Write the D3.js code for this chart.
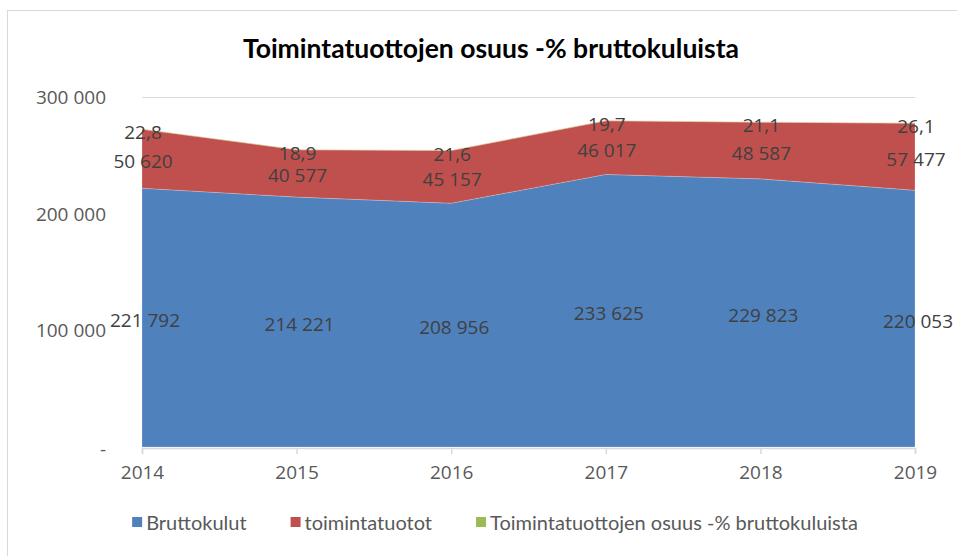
<!DOCTYPE html>
<html>
<head>
<meta charset="utf-8">
<script src="https://cdn.jsdelivr.net/npm/d3@7"></script>
<style>
  body { margin: 0; background: #fff; }
  svg { display: block; }
  .tick-label { font-family: "Open Sans", sans-serif; font-size: 19px; fill: #595959; }
  .data-label { font-family: "Open Sans", sans-serif; font-size: 19px; fill: #404040; }
  .legend text { font-family: Lato, sans-serif; font-size: 20px; fill: #595959; }
</style>
</head>
<body>
<div id="chart"></div>
<script>
var years = [2014, 2015, 2016, 2017, 2018, 2019];
var bruttokulut = [221792, 214221, 208956, 233625, 229823, 220053];
var toimintatuotot = [50620, 40577, 45157, 46017, 48587, 57477];
var osuus = [22.8, 18.9, 21.6, 19.7, 21.1, 26.1];
var yTicks = [0, 100000, 200000, 300000];
var seriesNames = ["Bruttokulut", "toimintatuotot", "Toimintatuottojen osuus -% bruttokuluista"];
var colors = ["#4F81BD", "#C0504D", "#9BBB59"];

var W = 957, H = 556;
var margin = {top: 97, right: 42, bottom: 109, left: 142},
    width = W - margin.left - margin.right,
    height = H - margin.top - margin.bottom;

var fi = d3.formatLocale({decimal: ",", thousands: "\u00a0", grouping: [3]});
var fmtInt = fi.format(",d"), fmtPct = fi.format(",.1f");

var svg = d3.select("#chart").append("svg")
    .attr("width", W)
    .attr("height", H);

// chart border
svg.append("rect")
    .attr("x", 7.5).attr("y", 10.5)
    .attr("width", W + 10).attr("height", H + 10)
    .attr("fill", "none").attr("stroke", "#d9d9d9");

svg.append("text")
    .attr("x", 491).attr("y", 48)
    .attr("text-anchor", "middle").attr("dominant-baseline", "central")
    .style("font-family", "Lato, sans-serif").style("font-weight", "bold")
    .style("font-size", "26.5px").style("fill", "#000")
    .text("Toimintatuottojen osuus -% bruttokuluista");

var g = svg.append("g")
    .attr("transform", "translate(" + margin.left + "," + margin.top + ")");

var x = d3.scalePoint().domain(years).range([0, width]);
var y = d3.scaleLinear().domain([0, 300000]).range([height, 0]);

// gridlines
g.selectAll(".grid").data(yTicks.filter(function(d) { return d > 0; }))
  .enter().append("line")
    .attr("x1", 0).attr("x2", width)
    .attr("y1", function(d) { return Math.round(y(d)) + 0.5; })
    .attr("y2", function(d) { return Math.round(y(d)) + 0.5; })
    .attr("stroke", "#d9d9d9");

var rows = years.map(function(yr, i) {
  return {year: yr, a: bruttokulut[i], b: toimintatuotot[i], c: osuus[i]};
});
var stack = d3.stack().keys(["a", "b", "c"]);
var layers = stack(rows);

var area = d3.area()
    .x(function(d) { return x(d.data.year); })
    .y0(function(d) { return y(d[0]); })
    .y1(function(d) { return y(d[1]); });

g.selectAll(".layer").data(layers)
  .enter().append("path")
    .attr("class", "layer")
    .attr("d", area)
    .attr("fill", function(d, i) { return colors[i]; })
    .attr("stroke", function(d, i) { return i === 2 ? "rgba(220,205,150,0.6)" : "rgba(255,255,255,0.35)"; })
    .attr("stroke-width", function(d, i) { return i === 2 ? 0.5 : 0.6; });

// x axis
var xAxis = g.append("g")
    .attr("transform", "translate(0," + (height + 1) + ")")
    .call(d3.axisBottom(x).tickSize(6).tickPadding(12));
xAxis.select(".domain").attr("stroke", "#d9d9d9").attr("stroke-width", 1.5);
xAxis.selectAll(".tick line").attr("stroke", "#d9d9d9").attr("stroke-width", 1.5);
xAxis.selectAll(".tick text").attr("class", "tick-label").attr("fill", null);

// y labels
g.selectAll(".ylab").data(yTicks)
  .enter().append("text")
    .attr("class", "tick-label")
    .attr("x", -36)
    .attr("y", function(d) { return y(d) + (d === 0 ? 2 : 0); })
    .attr("text-anchor", "end").attr("dominant-baseline", "central")
    .text(function(d) { return d === 0 ? "-" : fmtInt(d); });

// data labels
layers.forEach(function(layer, li) {
  g.selectAll(".dl" + li).data(layer)
    .enter().append("text")
      .attr("class", "data-label")
      .attr("x", function(d) { return x(d.data.year) + (li === 0 ? 3 : 1); })
      .attr("y", function(d) { return (y(d[0]) + y(d[1])) / 2 + (li === 2 ? 3 : 2); })
      .attr("text-anchor", "middle").attr("dominant-baseline", "central")
      .text(function(d) { return li === 2 ? fmtPct(d.data.c) : fmtInt(li === 0 ? d.data.a : d.data.b); });
});

// legend
var legend = svg.append("g").attr("class", "legend");
var lx = 0;
var items = legend.selectAll(".item").data(seriesNames).enter().append("g");
items.append("rect").attr("width", 10).attr("height", 10).attr("y", -5)
    .attr("fill", function(d, i) { return colors[i]; });
items.append("text").attr("x", 14).attr("dominant-baseline", "central").text(function(d) { return d; });
items.each(function() {
  var bw = this.getBBox().width;
  d3.select(this).attr("transform", "translate(" + lx + ",0)");
  lx += bw + 44;
});
lx -= 44;
legend.attr("transform", "translate(" + (495 - lx / 2) + ",522)");
</script>
</body>
</html>
